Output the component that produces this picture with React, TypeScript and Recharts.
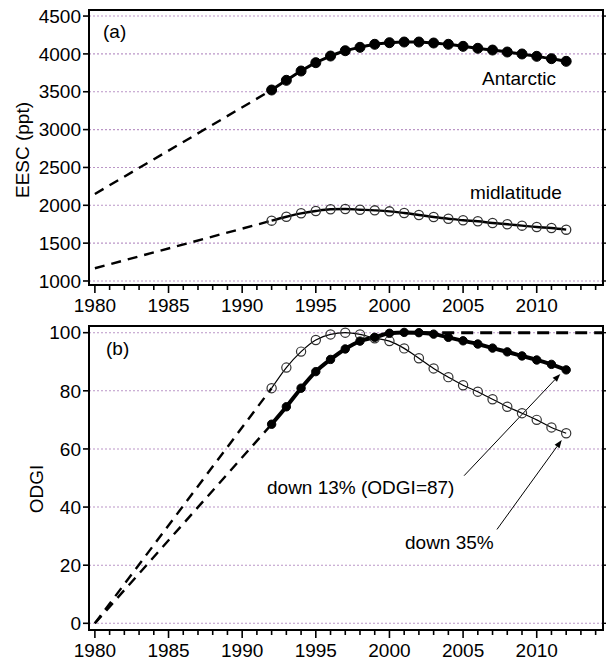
import { Line, LineChart, ReferenceArea, ReferenceLine, XAxis, YAxis } from "recharts";

const FONT = "'Liberation Sans', Arial, sans-serif";

// years with yearly data (1992-2012)
const years = [1992, 1993, 1994, 1995, 1996, 1997, 1998, 1999, 2000, 2001, 2002, 2003, 2004, 2005, 2006, 2007, 2008, 2009, 2010, 2011, 2012];

// panel (a) EESC in ppt
const eescAntarctic = [3523, 3651, 3774, 3884, 3972, 4042, 4087, 4127, 4148, 4157, 4157, 4144, 4127, 4100, 4074, 4051, 4025, 3999, 3968, 3937, 3902];
const eescMidlat = [1797, 1849, 1894, 1925, 1947, 1951, 1942, 1933, 1920, 1898, 1872, 1845, 1823, 1802, 1789, 1766, 1749, 1731, 1713, 1700, 1678];
const eescAntarcticEarly = [2150, 3523]; // 1980 -> 1992
const eescMidlatEarly = [1168, 1797];

// panel (b) ODGI
const odgiAntarctic = [68.5, 74.5, 80.9, 86.6, 90.8, 94.4, 97.1, 98.4, 99.8, 100.1, 100, 99.5, 98.4, 97.2, 96.1, 94.7, 93.4, 92.0, 90.6, 89.1, 87.2];
const odgiMidlat = [80.9, 88.0, 93.5, 97.5, 99.4, 100, 99.4, 98.1, 97.1, 94.6, 91.2, 87.7, 84.7, 81.9, 79.7, 77.1, 74.5, 72.3, 70.0, 67.4, 65.4];
const odgiAntarcticEarly = [0, 68.5];
const odgiMidlatEarly = [0, 80.9];
const earlyYears = [1980, 1992];

const yearTicks = [1980, 1981, 1982, 1983, 1984, 1985, 1986, 1987, 1988, 1989, 1990, 1991, 1992, 1993, 1994, 1995, 1996, 1997, 1998, 1999, 2000, 2001, 2002, 2003, 2004, 2005, 2006, 2007, 2008, 2009, 2010, 2011, 2012, 2013, 2014];
const eescTicks = [1000, 1500, 2000, 2500, 3000, 3500, 4000, 4500];
const odgiTicks = [0, 20, 40, 60, 80, 100];

const X_DOMAIN: [number, number] = [1979.6, 2014.5];
const EESC_DOMAIN: [number, number] = [947, 4580];
const ODGI_DOMAIN: [number, number] = [-2.3, 102.3];

const toSeries = (xs: number[], vs: number[]) => xs.map((year, i) => ({ year, v: vs[i] }));

function YearTick(props: any) {
  const { x, y, payload } = props;
  const major = payload.value % 5 === 0;
  return (
    <g>
      <line x1={x} y1={y} x2={x} y2={y + (major ? 8 : 5)} stroke="#000" strokeWidth={1.6} />
      {major && (
        <text x={x} y={y + 14} dy="0.71em" textAnchor="middle" fontSize={19} fill="#000" fontFamily={FONT}>
          {payload.value}
        </text>
      )}
    </g>
  );
}

// thin annotation arrow with a small head at the far end
function Arrow(props: any) {
  const { x1, y1, x2, y2 } = props;
  if ([x1, y1, x2, y2].some((n) => typeof n !== "number")) return null;
  const a = Math.atan2(y2 - y1, x2 - x1);
  const L = 8, W = 3;
  const bx = x2 - L * Math.cos(a), by = y2 - L * Math.sin(a);
  const p1 = `${bx + W * Math.sin(a)},${by - W * Math.cos(a)}`;
  const p2 = `${bx - W * Math.sin(a)},${by + W * Math.cos(a)}`;
  return (
    <g>
      <line x1={x1} y1={y1} x2={bx} y2={by} stroke="#000" strokeWidth={1} />
      <polygon points={`${x2},${y2} ${p1} ${p2}`} fill="#000" />
    </g>
  );
}

// dotted grid line spanning the plot width
function GridLine(props: any) {
  const { x1, y1, x2, y2 } = props;
  if ([x1, y1, x2, y2].some((n) => typeof n !== "number")) return null;
  return <line x1={x1} y1={y1} x2={x2} y2={y2} stroke="#bb96c7" strokeWidth={1.1} strokeDasharray="2 2" />;
}

function Panel({ children, yDomain, yTicks, height, xAxisHeight }: any) {
  return (
    <LineChart width={606} height={height} margin={{ top: 10, right: 0, left: 0, bottom: 0 }}>
      <XAxis
        type="number"
        dataKey="year"
        domain={X_DOMAIN}
        allowDataOverflow
        ticks={yearTicks}
        interval={0}
        height={xAxisHeight}
        tickSize={0}
        tickMargin={0}
        tickLine={false}
        axisLine={{ stroke: "#000", strokeWidth: 2 }}
        tick={<YearTick />}
      />
      <YAxis
        yAxisId="l"
        type="number"
        domain={yDomain}
        allowDataOverflow
        ticks={yTicks}
        interval={0}
        width={89}
        tickSize={6}
        tickMargin={2}
        tickLine={{ stroke: "#000", strokeWidth: 1.6 }}
        axisLine={{ stroke: "#000", strokeWidth: 2 }}
        tick={{ fontSize: 19, fill: "#000", fontFamily: FONT }}
      />
      <YAxis
        yAxisId="r"
        orientation="right"
        type="number"
        domain={yDomain}
        allowDataOverflow
        ticks={yTicks}
        interval={0}
        width={3}
        tickSize={3}
        tickMargin={0}
        tickFormatter={() => ""}
        tickLine={{ stroke: "#000", strokeWidth: 1.4 }}
        axisLine={{ stroke: "#000", strokeWidth: 2 }}
      />
      {/* dotted horizontal grid at the y ticks */}
      {yTicks.map((t: number) => (
        <ReferenceLine key={t} yAxisId="l" segment={[{ x: X_DOMAIN[0], y: t }, { x: X_DOMAIN[1], y: t }]} shape={<GridLine />} />
      ))}
      <ReferenceArea
        yAxisId="l"
        x1={X_DOMAIN[0]}
        x2={X_DOMAIN[1]}
        y1={yDomain[0]}
        y2={yDomain[1]}
        fill="none"
        stroke="#000"
        strokeWidth={2}
        fillOpacity={0}
      />
      {children}
    </LineChart>
  );
}

const dashed = { stroke: "#000", strokeWidth: 2.4, strokeDasharray: "10 7", dot: false, isAnimationActive: false };

export default function App() {
  return (
    <div style={{ position: "absolute", left: 0, top: 0, width: 606, height: 661, background: "#fff", fontFamily: FONT }}>
      {/* panel (a) */}
      <div style={{ position: "absolute", left: 0, top: 0, width: 606, height: 320 }}>
        <Panel yDomain={EESC_DOMAIN} yTicks={eescTicks} height={320} xAxisHeight={35}>
          <Line yAxisId="l" data={toSeries(earlyYears, eescAntarcticEarly)} dataKey="v" type="linear" {...dashed} />
          <Line yAxisId="l" data={toSeries(earlyYears, eescMidlatEarly)} dataKey="v" type="linear" {...dashed} />
          <Line
            yAxisId="l"
            data={toSeries(years, eescAntarctic)}
            dataKey="v"
            type="monotone"
            stroke="#000"
            strokeWidth={3}
            dot={{ r: 5, fill: "#000", stroke: "#000", strokeWidth: 1 }}
            isAnimationActive={false}
          />
          <Line
            yAxisId="l"
            data={toSeries(years, eescMidlat)}
            dataKey="v"
            type="monotone"
            stroke="#000"
            strokeWidth={2.4}
            dot={{ r: 4.6, fill: "none", stroke: "#333", strokeWidth: 1.3 }}
            isAnimationActive={false}
          />
        </Panel>
      </div>
      {/* panel (b) */}
      <div style={{ position: "absolute", left: 0, top: 316, width: 606, height: 345 }}>
        <Panel yDomain={ODGI_DOMAIN} yTicks={odgiTicks} height={345} xAxisHeight={31}>
          <ReferenceLine
            yAxisId="l"
            segment={[{ x: 2001, y: 100 }, { x: 2014.5, y: 100 }]}
            stroke="#000"
            strokeWidth={3}
            strokeDasharray="12 7"
          />
          <Line yAxisId="l" data={toSeries(earlyYears, odgiMidlatEarly)} dataKey="v" type="linear" {...dashed} />
          <Line yAxisId="l" data={toSeries(earlyYears, odgiAntarcticEarly)} dataKey="v" type="linear" {...dashed} />
          <Line
            yAxisId="l"
            data={toSeries(years, odgiMidlat)}
            dataKey="v"
            type="monotone"
            stroke="#000"
            strokeWidth={1.2}
            dot={{ r: 4.6, fill: "none", stroke: "#333", strokeWidth: 1.2 }}
            isAnimationActive={false}
          />
          <Line
            yAxisId="l"
            data={toSeries(years, odgiAntarctic)}
            dataKey="v"
            type="monotone"
            stroke="#000"
            strokeWidth={4}
            dot={{ r: 4.2, fill: "#000", stroke: "#000", strokeWidth: 1 }}
            isAnimationActive={false}
          />
          <ReferenceLine yAxisId="l" segment={[{ x: 2005.07, y: 50.8 }, { x: 2011.6, y: 85.8 }]} shape={<Arrow />} />
          <ReferenceLine yAxisId="l" segment={[{ x: 2007.3, y: 32.3 }, { x: 2011.7, y: 63.1 }]} shape={<Arrow />} />
        </Panel>
      </div>
      {/* text annotations */}
      <svg width={606} height={661} style={{ position: "absolute", left: 0, top: 0, pointerEvents: "none" }} fontFamily={FONT} fontSize={19} fill="#000">
        <text x={103} y={38}>(a)</text>
        <text x={482} y={85}>Antarctic</text>
        <text x={470} y={199}>midlatitude</text>
        <text transform="translate(22,150) rotate(-90)" textAnchor="middle" dy="0.35em">EESC (ppt)</text>
        <text x={106} y={355}>(b)</text>
        <text x={267} y={494}>down 13% (ODGI=87)</text>
        <text x={405} y={549}>down 35%</text>
        <text transform="translate(36,489) rotate(-90)" textAnchor="middle" dy="0.35em">ODGI</text>
      </svg>
    </div>
  );
}
